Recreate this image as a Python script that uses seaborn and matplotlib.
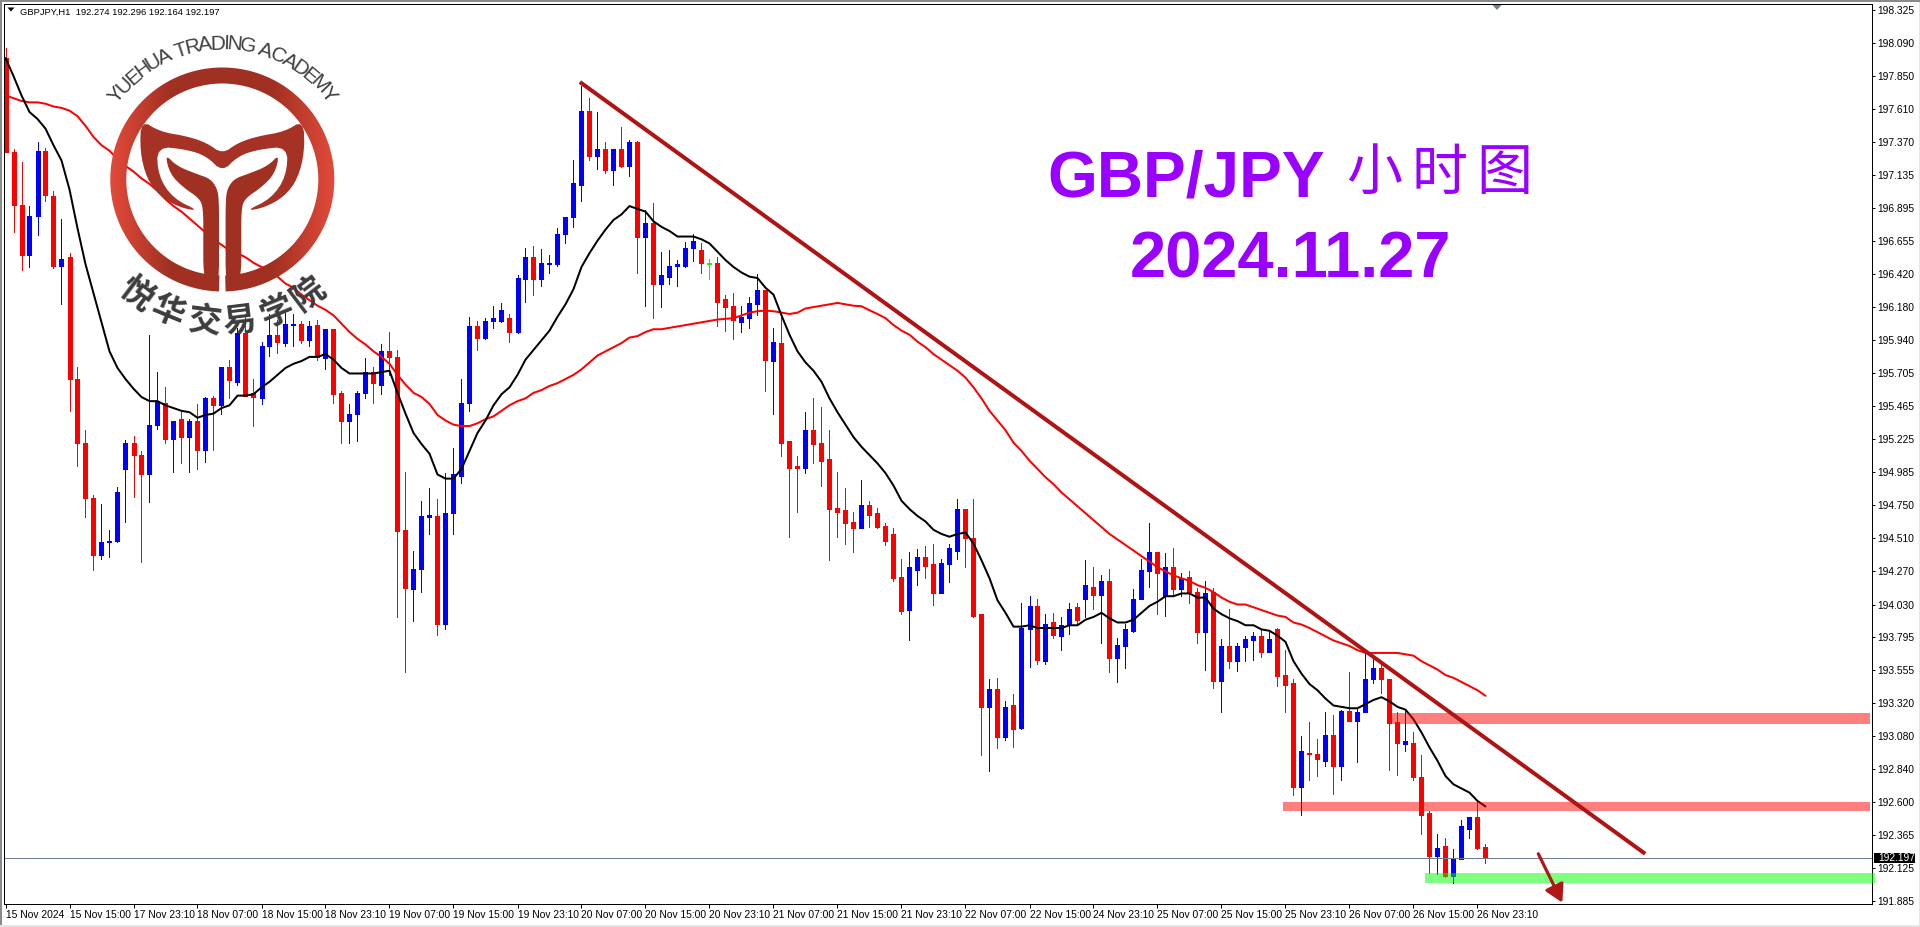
import numpy as np
import pandas as pd
import matplotlib
matplotlib.use("Agg")
import matplotlib.pyplot as plt
import seaborn as sns
from matplotlib.patches import Polygon, Rectangle
from matplotlib.textpath import TextPath
from matplotlib.font_manager import FontProperties

dirs = ("DDDUUDDUDD" "DDUUUUDDUU" "DUDUDUDUDU" "DDUUDUUDUD" "UDDUUUDUDD"
        "DUUUDUUUUD" "UUUDUUDUUU" "UUUDUDUDUD" "UDUUUUUDGD" "DDUUUDUDDD"
        "UDDDDDDUDD" "DDDUUDDUUU" "DDDUDUDUUD" "UDUUDUDUDU" "UUUUDUDUDD"
        "UDUDUUUDUD" "DDUDDUDUDU" "UUDDDUDDDU" "DUUUDD")

highs = [198.05,197.32,197.23,196.91,197.37,197.33,197.02,196.82,196.57,195.75,
195.29,194.82,194.76,194.57,194.88,195.22,195.25,195.14,195.98,195.71,
195.60,195.36,195.42,195.37,195.48,195.53,195.54,195.75,195.80,196.03,
196.13,195.66,195.93,196.13,196.09,196.14,196.13,196.08,196.08,196.09,
196.02,196.02,195.57,195.48,195.57,195.81,195.75,195.91,196.00,195.87,
194.99,194.42,194.78,194.87,194.79,194.98,195.16,195.66,196.11,196.08,
196.10,196.19,196.21,196.13,196.41,196.61,196.62,196.60,196.56,196.75,
196.83,197.24,197.78,197.69,197.59,197.37,197.32,197.48,197.39,197.38,
196.88,196.93,196.58,196.59,196.52,196.65,196.71,196.64,196.53,196.54,
196.27,196.28,196.19,196.25,196.42,196.30,196.03,196.11,195.21,195.10,
195.42,195.52,195.46,195.29,194.99,194.87,194.70,194.93,194.78,194.73,
194.62,194.58,194.36,194.41,194.43,194.45,194.47,194.36,194.47,194.79,
194.72,194.79,193.96,193.49,193.50,193.33,193.38,194.04,194.09,194.07,
193.96,193.97,193.94,194.04,194.04,194.35,194.30,194.24,194.29,193.79,
193.89,194.14,194.36,194.62,194.41,194.40,194.44,194.26,194.27,194.15,
194.20,194.15,193.78,194.00,193.755,193.80,193.83,193.85,193.83,193.86,
193.70,193.49,193.08,193.18,193.06,193.25,193.23,193.27,193.54,193.28,
193.70,193.65,193.60,193.49,193.25,193.26,193.11,192.94,192.54,192.37,
192.34,192.26,192.47,192.495,192.60,192.296]

tops = [197.98,197.30,196.92,196.84,197.31,197.31,196.98,196.53,196.54,195.66,
195.20,194.80,194.48,194.49,194.84,195.20,195.20,195.11,195.33,195.50,
195.49,195.36,195.37,195.36,195.36,195.52,195.52,195.75,195.75,195.99,
195.99,195.56,195.90,195.98,195.98,196.06,196.06,196.06,196.04,196.05,
196.02,196.02,195.56,195.41,195.56,195.71,195.71,195.86,195.86,195.82,
194.57,194.29,194.67,194.68,194.67,194.69,194.97,195.49,196.04,196.04,
196.08,196.10,196.16,196.10,196.39,196.54,196.54,196.50,196.50,196.71,
196.83,197.08,197.60,197.60,197.32,197.32,197.32,197.32,197.37,197.37,
196.79,196.79,196.41,196.48,196.49,196.61,196.66,196.59,196.50,196.50,
196.24,196.19,196.11,196.21,196.30,196.30,195.93,195.92,195.21,195.03,
195.29,195.29,195.20,195.08,194.73,194.71,194.63,194.75,194.75,194.69,
194.60,194.54,194.23,194.30,194.37,194.37,194.32,194.33,194.44,194.72,
194.72,194.51,193.96,193.42,193.42,193.29,193.30,193.86,194.02,194.02,
193.89,193.90,193.885,194.00,194.01,194.17,194.16,194.20,194.20,193.74,
193.85,194.07,194.28,194.41,194.41,194.30,194.30,194.22,194.23,194.12,
194.11,194.12,193.73,193.73,193.73,193.78,193.805,193.805,193.78,193.85,
193.52,193.46,192.97,192.96,192.95,193.09,193.09,193.26,193.26,193.255,
193.49,193.57,193.57,193.49,193.18,193.04,193.03,192.78,192.52,192.27,
192.285,192.20,192.43,192.495,192.495,192.274]

bottoms = [197.30,196.92,196.56,196.56,196.84,196.99,196.48,196.48,195.66,195.20,
194.80,194.39,194.39,194.48,194.49,195.01,195.11,194.97,194.97,195.33,
195.23,195.23,195.24,195.24,195.15,195.15,195.47,195.47,195.65,195.64,
195.54,195.53,195.52,195.90,195.93,195.92,196.05,195.94,195.94,195.82,
195.81,195.55,195.36,195.36,195.41,195.56,195.63,195.62,195.82,194.56,
194.15,194.14,194.29,194.66,193.89,193.89,194.69,194.96,195.49,195.96,
195.96,196.08,196.08,196.00,196.00,196.38,196.38,196.38,196.49,196.49,
196.71,196.83,197.06,197.27,197.27,197.17,197.17,197.20,197.20,196.69,
196.69,196.35,196.35,196.40,196.48,196.48,196.61,196.50,196.49,196.22,
196.18,196.09,196.07,196.10,196.20,195.80,195.79,195.20,195.02,195.02,
195.02,195.19,195.07,194.72,194.70,194.62,194.58,194.58,194.68,194.59,
194.49,194.22,193.98,193.99,194.28,194.31,194.11,194.11,194.32,194.42,
194.51,193.95,193.29,193.29,193.07,193.07,193.13,193.14,193.85,193.63,
193.62,193.81,193.805,193.88,193.92,194.07,194.10,194.10,193.64,193.64,
193.73,193.84,194.07,194.27,194.26,194.095,194.145,194.145,194.12,193.83,
193.83,193.48,193.48,193.62,193.62,193.72,193.77,193.69,193.69,193.51,
193.45,192.71,192.71,192.95,192.91,192.90,192.86,192.86,193.19,193.19,
193.255,193.49,193.49,193.175,193.03,193.02,192.78,192.51,192.21,192.21,
192.07,192.07,192.19,192.41,192.27,192.197]

lows = [197.30,196.72,196.45,196.47,196.70,196.95,196.46,196.20,195.43,195.03,
194.66,194.28,194.36,194.37,194.48,194.63,194.81,194.34,194.77,195.30,
195.20,194.99,195.05,194.99,195.01,195.06,195.15,195.41,195.52,195.62,
195.54,195.32,195.48,195.83,195.85,195.90,195.90,195.92,195.90,195.80,
195.73,195.49,195.20,195.20,195.21,195.52,195.49,195.55,195.69,193.94,
193.54,193.91,194.12,194.54,193.81,193.85,194.54,194.91,195.43,195.87,
195.95,196.03,196.07,195.93,195.99,196.22,196.27,196.33,196.43,196.48,
196.64,196.76,196.95,197.24,197.18,197.15,197.06,197.19,197.13,196.43,
196.19,196.10,196.18,196.35,196.33,196.47,196.51,196.43,196.38,196.04,
196.01,195.95,196.00,196.03,196.12,195.57,195.41,195.10,194.52,194.70,
194.98,195.05,194.89,194.35,194.52,194.47,194.41,194.58,194.59,194.58,
194.46,194.20,193.96,193.77,194.17,194.22,194.03,194.11,194.19,194.36,
194.30,193.94,192.94,192.83,192.99,193.05,193.00,193.13,193.58,193.60,
193.60,193.79,193.70,193.82,193.885,193.94,194.00,193.75,193.54,193.47,
193.57,193.83,194.07,194.16,193.96,193.95,194.10,194.095,194.04,193.75,
193.56,193.43,193.25,193.57,193.55,193.62,193.63,193.65,193.69,193.44,
193.25,192.655,192.51,192.76,192.79,192.86,192.66,192.76,193.19,192.89,
193.25,193.46,193.39,192.835,192.80,192.97,192.76,192.37,192.09,192.08,
192.06,192.02,192.19,192.34,192.26,192.164]

ma_fast = [197.98,197.85,197.71,197.59,197.54,197.47,197.35,197.24,197.03,196.75,
196.49,196.28,196.07,195.86,195.74,195.66,195.59,195.53,195.50,195.50,
195.47,195.45,195.43,195.42,195.38,195.40,195.41,195.45,195.47,195.54,
195.54,195.55,195.60,195.64,195.69,195.74,195.77,195.79,195.82,195.82,
195.84,195.80,195.74,195.70,195.70,195.70,195.70,195.71,195.72,195.56,
195.41,195.27,195.19,195.12,194.97,194.94,194.94,195.01,195.14,195.27,
195.36,195.47,195.55,195.60,195.69,195.80,195.87,195.94,196.01,196.11,
196.20,196.31,196.47,196.57,196.66,196.74,196.81,196.85,196.91,196.89,
196.87,196.80,196.76,196.73,196.69,196.69,196.69,196.67,196.64,196.58,
196.52,196.47,196.43,196.40,196.39,196.32,196.27,196.12,195.98,195.86,
195.78,195.72,195.64,195.52,195.42,195.33,195.24,195.17,195.11,195.05,
194.98,194.89,194.78,194.72,194.67,194.63,194.57,194.54,194.52,194.54,
194.55,194.47,194.35,194.22,194.06,193.97,193.87,193.87,193.88,193.86,
193.86,193.86,193.86,193.88,193.88,193.92,193.94,193.97,193.93,193.90,
193.90,193.92,193.97,194.02,194.05,194.09,194.09,194.11,194.11,194.08,
194.08,194.00,193.96,193.93,193.91,193.88,193.88,193.85,193.84,193.805,
193.76,193.62,193.53,193.455,193.41,193.35,193.30,193.29,193.28,193.28,
193.31,193.34,193.36,193.33,193.29,193.27,193.20,193.105,192.997,192.90,
192.79,192.73,192.70,192.67,192.61,192.57]

ma_slow = [197.71,197.69,197.67,197.66,197.66,197.65,197.63,197.62,197.60,197.56,
197.49,197.41,197.35,197.31,197.25,197.20,197.16,197.11,197.07,197.02,
196.96,196.91,196.87,196.82,196.77,196.72,196.67,196.63,196.59,196.57,
196.54,196.50,196.47,196.45,196.40,196.35,196.32,196.27,196.23,196.19,
196.16,196.12,196.06,196.00,195.95,195.91,195.86,195.82,195.77,195.69,
195.62,195.56,195.53,195.48,195.40,195.36,195.33,195.32,195.32,195.34,
195.37,195.39,195.43,195.47,195.50,195.52,195.56,195.58,195.61,195.63,
195.66,195.69,195.73,195.78,195.83,195.86,195.89,195.92,195.96,195.97,
196.00,196.02,196.02,196.03,196.04,196.05,196.06,196.07,196.08,196.09,
196.095,196.10,196.12,196.14,196.15,196.155,196.15,196.14,196.13,196.14,
196.17,196.18,196.19,196.20,196.21,196.20,196.19,196.186,196.157,196.13,
196.10,196.05,196.01,195.98,195.93,195.89,195.84,195.80,195.76,195.72,
195.67,195.60,195.52,195.43,195.36,195.29,195.20,195.14,195.07,195.01,
194.95,194.90,194.84,194.79,194.74,194.69,194.64,194.59,194.54,194.50,
194.46,194.42,194.38,194.34,194.30,194.27,194.24,194.22,194.20,194.17,
194.15,194.12,194.08,194.05,194.03,194.03,194.01,193.99,193.97,193.95,
193.94,193.90,193.885,193.86,193.83,193.80,193.77,193.75,193.73,193.70,
193.68,193.68,193.68,193.68,193.68,193.67,193.66,193.62,193.59,193.56,
193.52,193.50,193.47,193.44,193.41,193.37]

price_ticks = [198.325,198.090,197.850,197.610,197.370,197.135,196.895,196.655,196.420,196.180,
195.940,195.705,195.465,195.225,194.985,194.750,194.510,194.270,194.030,193.795,
193.555,193.320,193.080,192.840,192.600,192.365,192.125,191.885]

time_labels = ["15 Nov 2024","15 Nov 15:00","17 Nov 23:10","18 Nov 07:00","18 Nov 15:00","18 Nov 23:10",
"19 Nov 07:00","19 Nov 15:00","19 Nov 23:10","20 Nov 07:00","20 Nov 15:00","20 Nov 23:10",
"21 Nov 07:00","21 Nov 15:00","21 Nov 23:10","22 Nov 07:00","22 Nov 15:00","24 Nov 23:10",
"25 Nov 07:00","25 Nov 15:00","25 Nov 23:10","26 Nov 07:00","26 Nov 15:00","26 Nov 23:10"]

trend_x = [71.8, 204.96]
trend_y = [197.807, 192.228]
zones = [(173.3, 233.05, 193.168, 193.248, "#FF0000"),
         (159.7, 233.05, 192.539, 192.604, "#FF0000"),
         (177.5, 233.7, 192.018, 192.090, "#00FF00")]
last_price = 192.197
header = "GBPJPY,H1  192.274 192.296 192.164 192.197"

assert all(len(a) == 186 for a in (dirs, highs, tops, bottoms, lows, ma_fast, ma_slow))

sns.set_theme(style="white")
plt.rcParams["font.family"] = ["Liberation Sans", "Noto Sans CJK SC", "DejaVu Sans"]
W, H = 1920, 927
PX = 0.72
fig = plt.figure(figsize=(19.2, 9.27), dpi=100, facecolor="white")
ax = fig.add_axes([4.2 / W, (H - 904) / H, (1872 - 4.2) / W, 900 / H])
ax.set_facecolor("white")

df = pd.DataFrame({"bar": np.arange(186), "high": highs, "top": tops, "bottom": bottoms,
                   "low": lows, "fast": ma_fast, "slow": ma_slow, "dir": list(dirs)})
palette = {"U": "#0000FF", "D": "#FF0000", "G": "#00FF00"}
df["color"] = df["dir"].map(palette)

ax.vlines(df["bar"], df["low"], df["high"], colors=df["color"], lw=PX, zorder=2, antialiased=False)
ax.bar(df["bar"], df["top"] - df["bottom"], bottom=df["bottom"], width=0.5, color=df["color"],
       edgecolor=df["color"], linewidth=PX, zorder=2, antialiased=False)
ax.axhline(last_price, color="#708090", lw=PX, zorder=2.5)

sns.lineplot(data=df, x="bar", y="slow", ax=ax, color="#FF0000", lw=2.0 * PX, estimator=None, zorder=3)
sns.lineplot(data=df, x="bar", y="fast", ax=ax, color="#000000", lw=2.0 * PX, estimator=None, zorder=3.1)

for x0, x1, y0, y1, c in zones:
    ax.add_patch(Rectangle((x0, y0), x1 - x0, y1 - y0, facecolor=c, edgecolor="none", alpha=0.5,
                           zorder=4, clip_on=False))

ax.plot(trend_x, trend_y, color="#B01313", lw=4.0 * PX, zorder=5, solid_capstyle="butt", clip_on=False)
ax.annotate("", xy=(194.6, 191.875), xytext=(191.6, 192.228),
            arrowprops=dict(arrowstyle="-|>,head_length=0.7,head_width=0.4", color="#B01818",
                            lw=3.2 * PX, mutation_scale=15, shrinkA=0, shrinkB=0), zorder=5)

ax.set_xlim((4.2 - 5.5) / 8, (1872 - 5.5) / 8)
ax.set_ylim(191.865, 198.371)
ax.set_xlabel("")
ax.set_ylabel("")
ax.yaxis.tick_right()
ax.set_yticks(price_ticks)
ax.set_yticklabels([f"{v:.3f}" for v in price_ticks])
ax.set_xticks(np.arange(len(time_labels)) * 8)
ax.set_xticklabels(time_labels, ha="left")
ax.grid(False)
TICK = 10.2 * PX
ax.tick_params(axis="y", which="major", right=True, left=False, length=3 * PX, width=PX, pad=2.5 * PX,
               labelsize=TICK, labelcolor="black", color="black")
ax.tick_params(axis="x", which="major", bottom=True, length=4 * PX, width=PX, pad=2.5 * PX,
               labelsize=TICK, labelcolor="black", color="black")
for s in ax.spines.values():
    s.set_visible(True)
    s.set_color("black")
    s.set_linewidth(PX)

# overlay in figure pixels for window furniture, titles and the watermark
ov = fig.add_axes([0, 0, 1, 1], zorder=10)
ov.set_xlim(0, W)
ov.set_ylim(H, 0)
ov.axis("off")
ov.patch.set_alpha(0)

for xy, w, h, c in [((0, 0), W, 2, "#8A8A8A"), ((0, 0), 1.5, H, "#8A8A8A"),
                    ((0, 925), W, 2, "#E6E6E6"), ((1918.5, 2), 1.5, H, "#E6E6E6")]:
    ov.add_patch(Rectangle(xy, w, h, facecolor=c, edgecolor="none"))

ov.add_patch(Polygon([(7.5, 7.5), (14.5, 7.5), (11, 11.5)], closed=True, facecolor="black", edgecolor="none"))
ov.add_patch(Polygon([(1492.5, 5), (1501.5, 5), (1497, 10)], closed=True, facecolor="#708090", edgecolor="none"))
ov.text(20, 12.5, header, fontsize=9.35 * PX, color="black", va="center", ha="left")

ov.add_patch(Rectangle((1874, 853), 41, 10, facecolor="black", edgecolor="none"))
ov.text(1878, 858.3, f"{last_price:.3f}", fontsize=TICK, color="white", va="center", ha="left")

PURPLE = "#9A00FF"
ov.text(1047, 196, "GBP/JPY", fontsize=64 * PX, fontweight="bold", color=PURPLE, ha="left", va="baseline")
for ch, cx in zip("小时图", [1374, 1440, 1504]):
    ov.text(cx, 174, ch, fontsize=56 * PX, color=PURPLE, ha="center", va="center",
            family=["Noto Sans CJK SC", "DejaVu Sans"])
ov.text(1290.5, 278, "2024.11.27", fontsize=65 * PX, fontweight="bold", color=PURPLE, ha="center", va="baseline")

# watermark
CX, CY = 222.3, 179.5
def chaikin(points, n=2):
    p = np.asarray(points, float)
    for _ in range(n):
        q = np.roll(p, -1, axis=0)
        p = np.column_stack([0.75 * p + 0.25 * q, 0.25 * p + 0.75 * q]).reshape(-1, 2)
    return p
def mirror(points):
    return [(2 * CX - x, y) for x, y in points]

th = np.radians(np.linspace(1.7, 358.3, 360)) + np.pi / 2
outer = np.column_stack([CX + 112 * np.cos(th), CY + 112 * np.sin(th)])
inner = np.column_stack([CX + 96 * np.cos(th[::-1]), CY + 96 * np.sin(th[::-1])])
ring = np.vstack([outer, inner])
ring_patch = Polygon(ring, closed=True, facecolor="none", edgecolor="none", transform=ov.transData)
ov.add_patch(ring_patch)
xs = np.linspace(CX - 113, CX + 113, 226)
t = np.clip((np.abs(xs - CX) / 112 - 0.45) / 0.55, 0, 1)[None, :, None]
dark = np.array([0xA0, 0x30, 0x22]) / 255
bright = np.array([0xE2, 0x4A, 0x3A]) / 255
grad = dark[None, None, :] * (1 - t) + bright[None, None, :] * t
im = ov.imshow(grad, extent=(CX - 113, CX + 113, CY + 113, CY - 113), aspect="auto", zorder=6,
               interpolation="bilinear")
im.set_clip_path(ring_patch)
ov.set_xlim(0, W)
ov.set_ylim(H, 0)

lobe_outer = [(199.3, 211.1), (180, 207.6), (160, 196.4), (146.7, 178.6), (140, 151.8), (141, 120),
              (160, 131.7), (186.7, 136.2), (206.7, 142.8)]
lobe_inner = [(206.7, 156.2), (186.7, 149.5), (156.7, 146.4), (158.3, 176.3), (173.3, 198.6)]
band = (lobe_outer + [(CX, 154)] + mirror(lobe_outer[::-1]) + mirror(lobe_inner[::-1])
        + [(CX, 171.9)] + lobe_inner)
ov.add_patch(Polygon(chaikin(band, 2), closed=True, facecolor="#A53224", edgecolor="none", zorder=6))
stem = [(165, 154), (176.7, 166), (196.7, 174), (210, 178.6), (216.7, 187.5), (219, 198.7), (219, 240),
        (219, 281), (213.3, 288), (208.3, 291), (203.3, 273), (203.3, 240), (203.3, 209.8), (200, 198.7),
        (183.3, 187.5), (170, 174)]
ov.add_patch(Polygon(chaikin(stem, 2), closed=True, facecolor="#A03022", edgecolor="none", zorder=6))
ov.add_patch(Polygon(chaikin(mirror(stem), 2), closed=True, facecolor="#A03022", edgecolor="none", zorder=6))

arc_text = "YUEHUA TRADING ACADEMY"
fp = FontProperties(family="Liberation Sans", size=20)
adv = [TextPath((0, 0), ch + "|", prop=fp).get_extents().width -
       TextPath((0, 0), "|", prop=fp).get_extents().width for ch in arc_text]
adv = [a if ch != " " else 5.5 for a, ch in zip(adv, arc_text)]
adv = np.array(adv, float)
pos = np.cumsum(adv) - adv / 2
R_top = 135.5
span = np.radians(108)
ang = (pos / adv.sum() - 0.5) * span
for ch, a in zip(arc_text, ang):
    ov.text(CX + R_top * np.sin(a), CY - R_top * np.cos(a), ch, fontsize=15, color="#404040",
            rotation=-np.degrees(a), rotation_mode="anchor", ha="center", va="center", zorder=7)

cjk = "悦华交易学院"
for ch, deg in zip(cjk, [37, 22.5, 7, -7, -22.5, -37]):
    a = np.radians(deg)
    ov.text(CX - 143 * np.sin(a), CY + 143 * np.cos(a), ch, fontsize=24, fontweight="bold", color="#3C3C3C",
            rotation=-deg, rotation_mode="anchor", ha="center", va="center", zorder=7,
            family=["Noto Sans CJK SC", "DejaVu Sans"])

fig.savefig("out.png", dpi=100)
